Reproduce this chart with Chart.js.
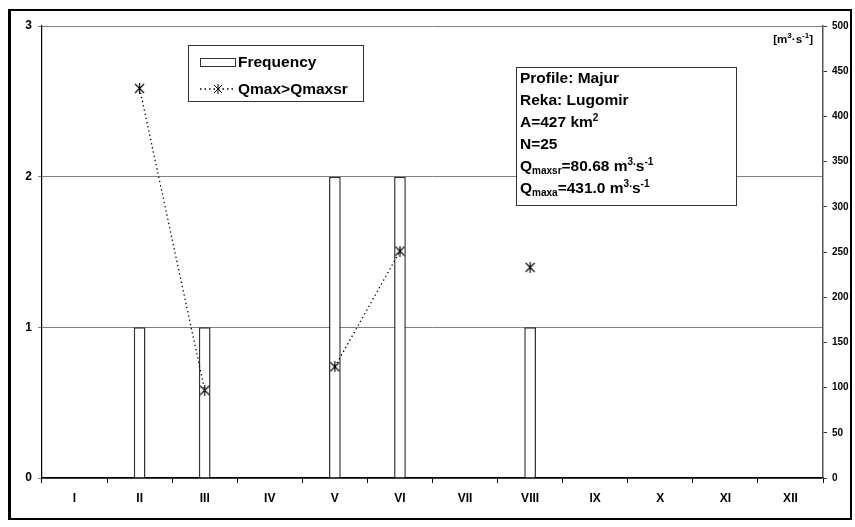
<!DOCTYPE html>
<html>
<head>
<meta charset="utf-8">
<script src="https://cdn.jsdelivr.net/npm/chart.js@4.4.1/dist/chart.umd.min.js"></script>
<style>
body{margin:0;background:#fff;font-family:"Liberation Sans",Arial,sans-serif;}
#wrap{position:relative;width:855px;height:527px;}
#frame{position:absolute;left:8px;top:9px;width:844px;height:511px;border:2px solid #000;border-left-width:3px;box-sizing:border-box;pointer-events:none;}
.box{position:absolute;background:#fff;border:1px solid #333;font-weight:bold;font-size:15.5px;color:#000;}
#legend{left:188px;top:45px;width:176px;height:57px;box-sizing:border-box;}
#legend .row{position:absolute;left:11px;display:flex;align-items:center;height:18px;white-space:nowrap;}
#info{left:516px;top:67px;width:221px;height:139px;box-sizing:border-box;}
#info .txt{position:absolute;left:3px;top:-1px;line-height:22px;white-space:nowrap;}
#info sub{font-size:10px;vertical-align:-3px;line-height:0;}
#info sup{font-size:10px;vertical-align:6px;line-height:0;}
#unit sup{font-size:8px;vertical-align:5px;line-height:0;}
#unit{position:absolute;right:42px;top:33px;font-weight:bold;font-size:11.5px;}
</style>
</head>
<body>
<div id="wrap">
<canvas id="c" width="855" height="527"></canvas>
<div id="frame"></div>
<div id="unit">[m<sup>3</sup>·s<sup>-1</sup>]</div>
<div id="legend" class="box">
<div class="row" style="top:7px"><span style="display:inline-block;width:36px;height:9px;border:1px solid #333;box-sizing:border-box;margin-right:2px"></span>Frequency</div>
<div class="row" style="top:34px"><svg width="36" height="12" style="margin-right:2px">
<line x1="0" y1="6" x2="36" y2="6" stroke="#000" stroke-width="1.5" stroke-dasharray="1.5,3"/>
<path d="M14 2 L22 10 M22 2 L14 10 M18 1 L18 11" stroke="#000" stroke-width="1"/>
</svg>Qmax&gt;Qmaxsr</div>
</div>
<div id="info" class="box"><div class="txt">
Profile: Majur<br>
Reka: Lugomir<br>
A=427 km<sup>2</sup><br>
N=25<br>
Q<sub>maxsr</sub>=80.68 m<sup>3.</sup>s<sup>-1</sup><br>
Q<sub>maxa</sub>=431.0 m<sup>3.</sup>s<sup>-1</sup>
</div></div>
</div>
<script>
const months = ["I","II","III","IV","V","VI","VII","VIII","IX","X","XI","XII"];
const frequency = [0,1,1,0,2,2,0,1,0,0,0,0];
const qmax = [null,431,97,null,123,251,null,233,null,null,null,null];

function makeStar(){
const m = document.createElement("canvas");
m.width = 11; m.height = 11;
const g = m.getContext("2d");
g.strokeStyle = "#000";
g.lineWidth = 1.1;
g.beginPath();
g.moveTo(1,1); g.lineTo(10,10);
g.moveTo(10,1); g.lineTo(1,10);
g.moveTo(5.5,0); g.lineTo(5.5,11);
g.stroke();
return m;
}

const tickFont = {family:"Liberation Sans",size:12,weight:"bold"};

new Chart(document.getElementById("c"),{
type:"bar",
data:{
labels:months,
datasets:[
{
type:"line",
label:"Qmax>Qmaxsr",
data:qmax,
yAxisID:"y1",
borderColor:"#000",
borderWidth:1.3,
borderDash:[1.3,3],
spanGaps:false,
pointStyle:makeStar(),
pointRadius:5,
order:0
},
{
label:"Frequency",
data:frequency,
yAxisID:"y",
backgroundColor:"#fff",
borderColor:"#333",
borderWidth:1.5,
categoryPercentage:0.18,
barPercentage:1,
order:1
}
]
},
options:{
responsive:false,
animation:false,
layout:{padding:{top:26,left:0,right:0,bottom:0}},
plugins:{legend:{display:false},tooltip:{enabled:false}},
scales:{
x:{
afterFit:s=>{s.height=49;},
grid:{drawOnChartArea:false,tickLength:5,color:"#000",offset:true},
border:{color:"#000",width:1.5},
ticks:{color:"#000",font:tickFont,padding:8}
},
y:{
position:"left",
min:0,max:3,
afterFit:s=>{s.width=42;},
grid:{color:"#808080",tickLength:4},
border:{color:"#000",width:1.2},
ticks:{stepSize:1,color:"#000",font:tickFont,padding:6}
},
y1:{
position:"right",
min:0,max:500,
afterFit:s=>{s.width=32;},
grid:{drawOnChartArea:false,tickLength:4,color:"#333"},
border:{color:"#555",width:1.5},
ticks:{stepSize:50,color:"#000",font:{family:"Liberation Sans",size:10,weight:"bold"},padding:5}
}
}
}
});
</script>
</body>
</html>
